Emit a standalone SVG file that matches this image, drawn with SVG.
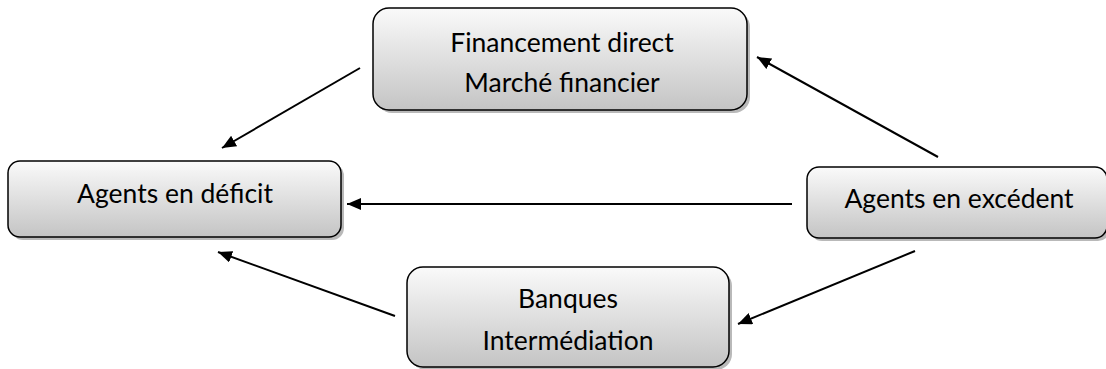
<svg xmlns="http://www.w3.org/2000/svg" width="1106" height="369" viewBox="0 0 1106 369">
<defs>
<linearGradient id="g" x1="0" y1="0" x2="0" y2="1">
<stop offset="0" stop-color="#fafafa"/>
<stop offset="1" stop-color="#c4c4c4"/>
</linearGradient>
<marker id="ah" viewBox="0 0 14 12" refX="14" refY="6" markerWidth="14" markerHeight="12" markerUnits="userSpaceOnUse" orient="auto"><path d="M0,0 L14,6 L0,12 Z" fill="#000"/></marker>
</defs>
<style>
.sh{fill:#8a8a8a;opacity:0.6}
.box{fill:url(#g);stroke:#000;stroke-width:1.5}
.t{font-family:Lato,"Open Sans",sans-serif;font-size:26.5px;fill:#000;text-anchor:middle}
.c{stroke:#000;stroke-width:2;fill:none;marker-end:url(#ah)}
</style>
<g id="fin">
<rect class="sh" x="376" y="11" width="374" height="102" rx="16"/>
<rect class="box" x="373" y="8" width="374" height="102" rx="16"/>
<text class="t" x="562" y="52">Financement direct</text>
<text class="t" x="562" y="92">Marché financier</text>
</g>
<g id="deficit">
<rect class="sh" x="11" y="164" width="333" height="76" rx="12"/>
<rect class="box" x="8" y="161" width="333" height="76" rx="12"/>
<text class="t" x="175" y="203">Agents en déficit</text>
</g>
<g id="excedent">
<rect class="sh" x="810" y="170" width="300" height="71" rx="12"/>
<rect class="box" x="807" y="167" width="300" height="71" rx="12"/>
<text class="t" x="959" y="208">Agents en excédent</text>
</g>
<g id="banques">
<rect class="sh" x="410" y="270" width="322" height="100" rx="16"/>
<rect class="box" x="407" y="267" width="322" height="100" rx="16"/>
<text class="t" x="568" y="308">Banques</text>
<text class="t" x="568" y="350">Intermédiation</text>
</g>
<g id="connectors">
<line class="c" x1="360" y1="68" x2="222" y2="148"/>
<line class="c" x1="938" y1="157" x2="757" y2="57"/>
<line class="c" x1="792" y1="204" x2="347" y2="204"/>
<line class="c" x1="915" y1="251" x2="738" y2="324"/>
<line class="c" x1="395" y1="316" x2="218" y2="252"/>
</g>
</svg>
